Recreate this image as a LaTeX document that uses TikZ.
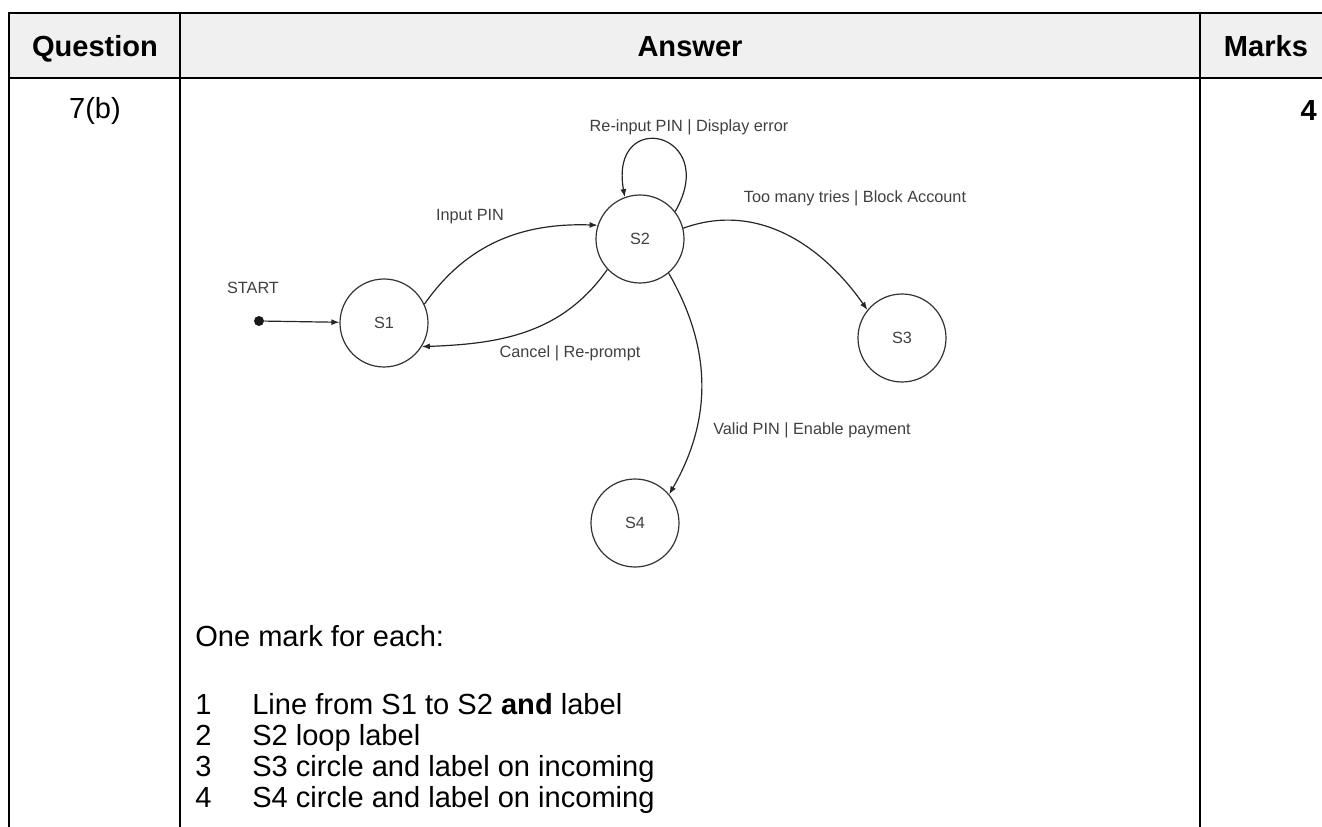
\documentclass[tikz,border=0pt]{standalone}
\usepackage{fontspec}
\setmainfont{Liberation Sans}
\usetikzlibrary{arrows.meta,positioning}

\begin{document}
\begin{tikzpicture}[x=0.75pt,y=0.75pt,
  state/.style={circle,draw=black!80,line width=0.9pt,minimum size=66pt,inner sep=0pt,font=\fontsize{12.2}{14}\selectfont,text=black!75},
  lbl/.style={font=\fontsize{12.2}{14}\selectfont,text=black!75,inner sep=0pt},
  arr/.style={-{Latex[length=6pt,width=4.5pt]},draw=black!85,line width=0.9pt},
  hdr/.style={font=\fontsize{21.8}{24}\selectfont\bfseries,anchor=base,inner sep=0pt},
  body/.style={font=\fontsize{21.8}{24}\selectfont,anchor=base west,inner sep=0pt}]
\useasboundingbox (0,0) rectangle (1322,-827);
% table frame
\fill[black!6] (9,-12.7) rectangle (1322,-77.7);
\draw[line width=1.5pt] (1322,-12.7) -- (9,-12.7) -- (9,-827);
\draw[line width=1.5pt] (9,-77.7) -- (1322,-77.7);
\draw[line width=1.5pt] (180,-12.7) -- (180,-827);
\draw[line width=1.5pt] (1200,-12.7) -- (1200,-827);
\node[hdr] (hq) at (95,-56.5) {Question};
\node[hdr] (ha) at (690,-56.5) {Answer};
\node[hdr] (hm) at (1266,-56.5) {Marks};
\node[body,anchor=base] (qn) at (95,-119) {7(b)};
\node[hdr,anchor=base east] (mk) at (1317,-121) {4};
% states
\node[state] (s1) at (384,-323) {S1};
\node[state] (s2) at (640,-239) {S2};
\node[state] (s3) at (902,-338) {S3};
\node[state] (s4) at (635,-523) {S4};
\node[circle,fill=black!90,minimum size=7.5pt,inner sep=0pt] (st) at (259,-321) {};
\node[lbl] (stl) at (253,-288) {START};
\draw[arr] (st) -- (s1);
\draw[arr] (s1.25) to[out=55,in=178] (s2.162);
\draw[arr] (s2.223) to[out=235,in=2] (s1.328);
\draw[arr] (s2.38) to[out=60,in=100,looseness=4.5] (s2.110);
\draw[arr] (s2.14) to[out=20,in=125] (s3.141);
\draw[arr] (s2.310) to[out=-60,in=60] (s4.40);
\node[lbl] (l12) at (470,-217) {Input PIN};
\node[lbl] (l21) at (570,-353) {Cancel | Re-prompt};
\node[lbl] (l22) at (689,-127) {Re-input PIN | Display error};
\node[lbl] (l23) at (855,-198) {Too many tries | Block Account};
\node[lbl,anchor=west] (l24) at (713,-430) {Valid PIN | Enable payment};
% mark scheme
\node[body] (one) at (195,-646) {One mark for each:};
\foreach \n/\y/\txt in {1/714/{Line from S1 to S2 \textbf{and} label},
                        2/745/{S2 loop label},
                        3/776/{S3 circle and label on incoming},
                        4/807/{S4 circle and label on incoming}}{
  \node[body] (n\n) at (195,-\y) {\n};
  \node[body] (t\n) at (252,-\y) {\txt};
}
\end{tikzpicture}
\end{document}
